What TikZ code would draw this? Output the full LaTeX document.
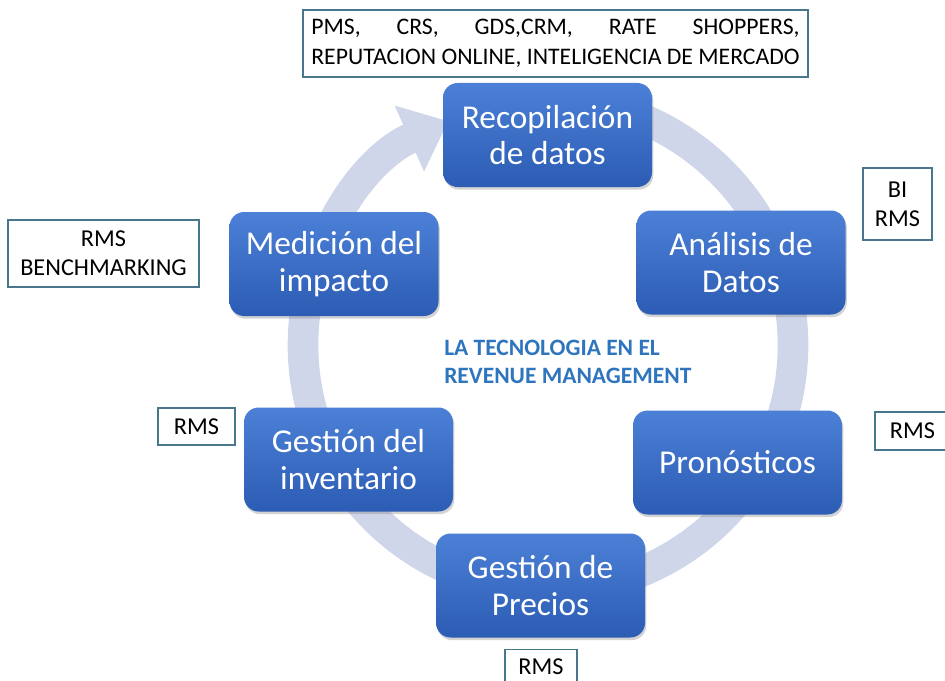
\documentclass[tikz,border=0pt]{standalone}
\usepackage{fontspec}
\setmainfont{Carlito}
\usepackage{tikz}
\usetikzlibrary{calc, arrows.meta, shadows}
\definecolor{phasetop}{RGB}{76,128,215}
\definecolor{phasebot}{RGB}{44,92,180}
\definecolor{ringcol}{RGB}{208,214,234}
\definecolor{toolline}{RGB}{72,118,138}
\definecolor{titleblue}{RGB}{46,117,190}
\newlength\toplinew
\tikzstyle{phase} = [rectangle, rounded corners=11pt, minimum width=156.75pt, minimum height=78pt, align=center, text=white, top color=phasetop, bottom color=phasebot, drop shadow={opacity=0.35, shadow xshift=1pt, shadow yshift=-2pt}, font=\fontsize{25}{27.5}\selectfont]
\tikzstyle{tool} = [rectangle, draw=toolline, line width=0.9pt, fill=white, align=center, inner sep=0pt, font=\fontsize{18.2}{21.5}\selectfont]
\tikzstyle{ring} = [line width=23pt, draw=ringcol, -{Triangle[length=32pt, width=52pt]}]

\begin{document}
\begin{tikzpicture}[x=0.75pt, y=-0.75pt]
\useasboundingbox (0,0) rectangle (945,681);

% Ring
\coordinate (ctr) at (548,345);
\draw [ring] ($(ctr)+(90:183.75pt)$) arc [start angle=90, end angle=-246, radius=183.75pt];

% Nodes
\node (recop) [phase] at (547.5,135) {Recopilación\\de datos};
\node (anali) [phase] at (741,262.5) {Análisis de\\Datos};
\node (prono) [phase] at (737.5,462.5) {Pronósticos};
\node (precios) [phase] at (540.5,585.5) {Gestión de\\Precios};
\node (invent) [phase] at (348.5,459.5) {Gestión del\\inventario};
\node (medic) [phase] at (334,264) {Medición del\\impacto};

\node (title) [anchor=north west, align=left, text=titleblue, inner sep=0pt, font=\bfseries\fontsize{17.6}{21}\selectfont] at (444,340) {LA TECNOLOGIA EN EL\\REVENUE MANAGEMENT};

% Tools
\node (sources) [tool, minimum width=378.75pt, minimum height=50.25pt, font=\fontsize{17.8}{22.5}\selectfont] at (555.5,43.5) {\settowidth{\toplinew}{REPUTACION ONLINE, INTELIGENCIA DE MERCADO}\makebox[\toplinew][s]{PMS, CRS, GDS,CRM, RATE SHOPPERS,}\\REPUTACION ONLINE, INTELIGENCIA DE MERCADO};
\node (bitool) [tool, minimum width=51.75pt, minimum height=54pt] at (897.5,204) {BI\\RMS};
\node (bench) [tool, minimum width=143.25pt, minimum height=50.25pt] at (103.5,253.5) {RMS\\BENCHMARKING};
\node (rmsinv) [tool, minimum width=57.75pt, minimum height=27.75pt] at (196.5,426.5) {RMS};
\node (rmspro) [tool, minimum width=56.25pt, minimum height=28.5pt] at (912.5,431) {RMS};
\node (rmspre) [tool, minimum width=54pt, minimum height=25pt] at (541,666.5) {RMS};

\end{tikzpicture}
\end{document}
